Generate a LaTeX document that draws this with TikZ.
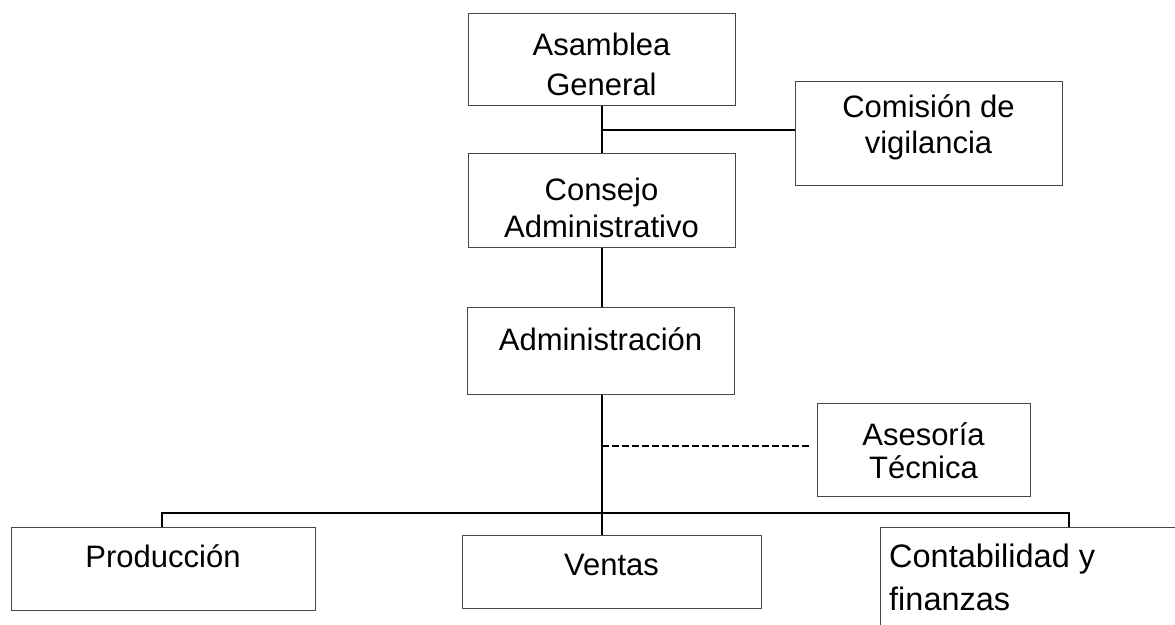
\documentclass[tikz,border=0pt]{standalone}
\usepackage{fontspec}
\setmainfont{Liberation Sans}
\begin{document}
\begin{tikzpicture}[x=1pt,y=-1pt,
  box/.style={draw=black!72,line width=1.3pt,rectangle,anchor=north west,inner sep=0pt,fill=none},
  lbl/.style={anchor=base,inner sep=0pt,font=\fontsize{31}{37}\selectfont},
  conn/.style={line width=2pt,black},
  dconn/.style={line width=2.2pt,black,dash pattern=on 7pt off 3pt}]
\useasboundingbox (0,0) rectangle (1175,624);
\clip (0,0) rectangle (1175,624);
% boxes
\node[box,minimum width=267pt,minimum height=92pt] (asamblea) at (468,13) {};
\node[box,minimum width=267pt,minimum height=104pt] (comision) at (795,81) {};
\node[box,minimum width=267pt,minimum height=94pt] (consejo) at (468,153) {};
\node[box,minimum width=267pt,minimum height=87pt] (admin) at (467,307) {};
\node[box,minimum width=213pt,minimum height=93pt] (asesoria) at (817,403) {};
\node[box,minimum width=304pt,minimum height=83pt] (produccion) at (11,527) {};
\node[box,minimum width=299pt,minimum height=73pt] (ventas) at (462,535) {};
\node[box,minimum width=330pt,minimum height=130pt] (contab) at (880,527) {};
% texts
\node[lbl] (t1) at (601.5,55) {Asamblea};
\node[lbl] (t2) at (601.5,95) {General};
\node[lbl] (t3) at (928.5,117) {Comisión de};
\node[lbl] (t4) at (928.5,153) {vigilancia};
\node[lbl] (t5) at (601.5,200) {Consejo};
\node[lbl] (t6) at (601.5,237) {Administrativo};
\node[lbl] (t7) at (600.5,350) {Administración};
\node[lbl] (t8) at (923.5,445) {Asesoría};
\node[lbl] (t9) at (923.5,478) {Técnica};
\node[lbl] (t10) at (163,567) {Producción};
\node[lbl] (t11) at (611.5,575) {Ventas};
\node[lbl,anchor=base west,font=\fontsize{32.5}{37}\selectfont] (t12) at (889,567) {Contabilidad y};
\node[lbl,anchor=base west,font=\fontsize{32.5}{37}\selectfont] (t13) at (889,610) {finanzas};
% junctions
\coordinate (j1) at (602,130);
\coordinate (j2) at (602,446);
\coordinate (bl) at (162,513);
\coordinate (br) at (1069,513);
% connectors
\draw[conn] (asamblea.south -| j1) -- (consejo.north -| j1);
\draw[conn] (j1) -- (j1 -| comision.west);
\draw[conn] (consejo.south -| j1) -- (admin.north -| j1);
\draw[conn] (admin.south -| j1) -- (ventas.north -| j1);
\draw[dconn] (j2) -- ([xshift=-6pt]j2 -| asesoria.west);
\draw[conn] (bl |- produccion.north) -- (bl) -- (br) -- (br |- contab.north);
\end{tikzpicture}
\end{document}
